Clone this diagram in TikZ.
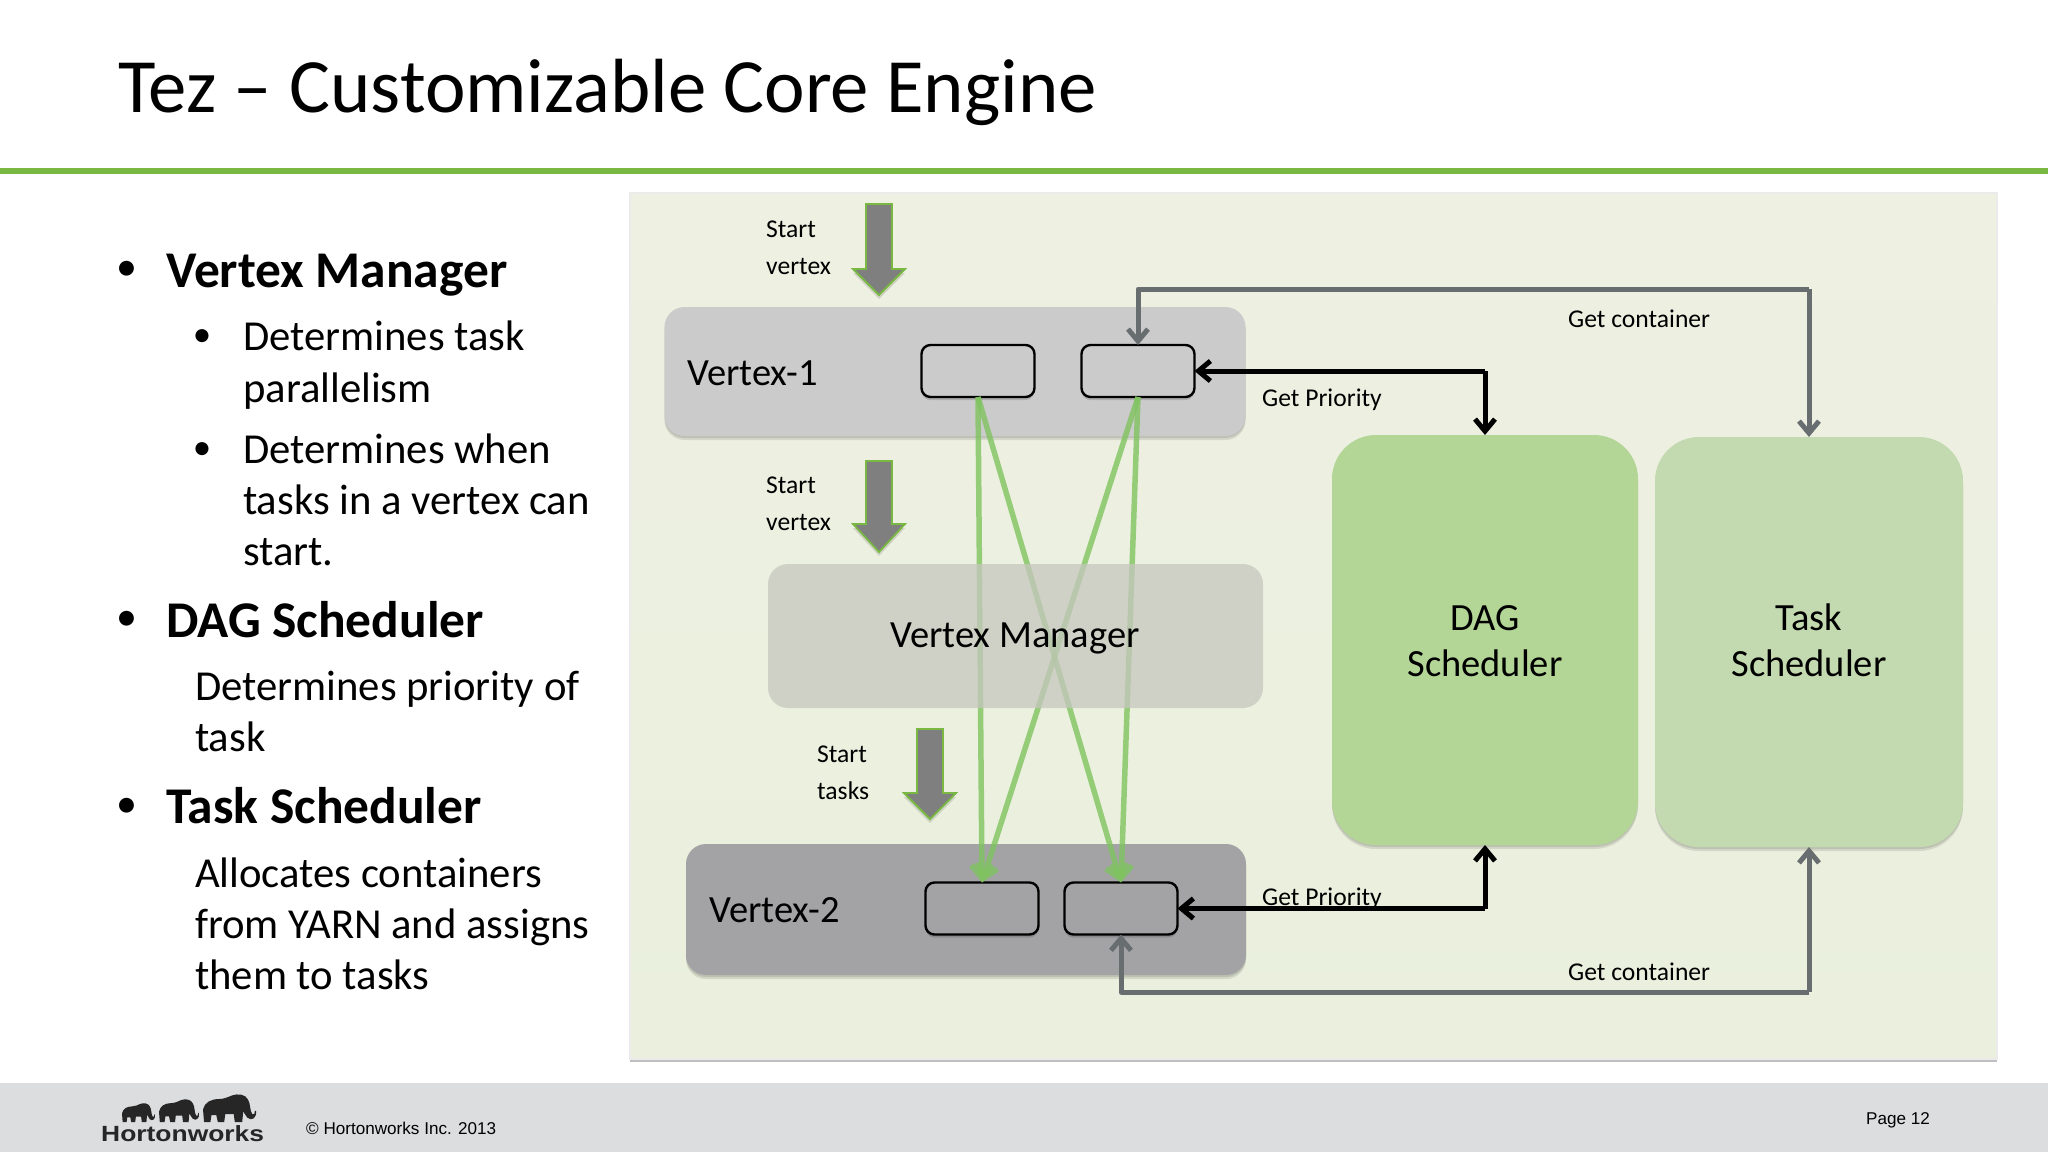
\documentclass[tikz,border=0pt]{standalone}
\usepackage{fontspec}
\setmainfont{Carlito}
\newfontfamily\arialf{Liberation Sans}
\usetikzlibrary{arrows.meta,shadows,calc}
\definecolor{paneltop}{HTML}{EEF0E2}
\definecolor{panelbot}{HTML}{EAF0DD}
\definecolor{vonec}{HTML}{CBCBCB}
\definecolor{vtwoc}{HTML}{A3A3A5}
\definecolor{vmc}{HTML}{C6C7BE}
\definecolor{dagc}{HTML}{B3D596}
\definecolor{taskc}{HTML}{C3D9AF}
\definecolor{rulec}{HTML}{78B843}
\definecolor{footc}{HTML}{DCDDDF}
\definecolor{grayline}{HTML}{686E70}
\definecolor{greenline}{HTML}{7FC35F}
\definecolor{blockc}{HTML}{7F7F7F}
\newcommand{\fs}[1]{\fontsize{#1}{#1}\selectfont}
\newcommand{\elephant}[4]{\fill[black!85,shift={(#1,#2)},x=#3pt,y=-#4pt]
  (0,.55) .. controls (.03,.3) and (.15,.18) .. (.3,.18)
  .. controls (.4,.18) and (.48,.1) .. (.55,.05)
  .. controls (.65,-.02) and (.8,0) .. (.85,.2)
  .. controls (.9,.35) and (.88,.6) .. (.93,.72)
  .. controls (.96,.78) and (.98,.7) .. (.98,.6)
  -- (1,.6) .. controls (1.02,.85) and (.92,.98) .. (.84,.85)
  .. controls (.8,.75) and (.78,.7) .. (.76,.62)
  -- (.74,1) -- (.6,1) -- (.58,.72) -- (.42,.72) -- (.4,1) -- (.28,1) -- (.25,.75) -- (.16,.75) -- (.14,1) -- (.02,1) -- cycle;}
\newcommand{\blockarrow}[4]{\fill[blockc,draw=rulec,line width=1.8pt,general shadow={fill=black,opacity=.12,shadow yshift=-4pt}]
  ($(#1,#2)+(-13,0)$) -- ($(#1,#2)+(13,0)$) -- (#1+13,#3) -- (#1+26,#3) -- (#1,#4) -- (#1-26,#3) -- (#1-13,#3) -- cycle;}
\tikzset{
 x=1pt,y=-1pt,
 soft/.style={general shadow={fill=black,opacity=.10,shadow yshift=-2pt},general shadow={fill=black,opacity=.10,shadow yshift=-4pt}},
 box/.style={inner sep=0pt,outer sep=0pt,rounded corners=#1},
 vbox/.style={box=20pt,soft},
 sched/.style={box=44pt,soft},
 task/.style={box=9pt,draw=black,line width=2.4pt,minimum width=113pt,minimum height=52pt,general shadow={fill=black,opacity=.15,shadow yshift=-3pt}},
 lab/.style={anchor=base west,inner sep=0pt,font=\fs{25.6}},
 big/.style={anchor=base west,inner sep=0pt,font=\fs{42.7}},
 head/.style={anchor=base west,inner sep=0pt,font=\fs{51.5}\bfseries},
 vlab/.style={anchor=base west,inner sep=0pt,font=\fs{38.5}},
 mid/.style={font=\fs{38.5},inner sep=0pt,anchor=base},
 greyconn/.style={draw=grayline,line width=5pt,line join=round,-{Straight Barb[length=12pt,width=20pt,line width=5pt]}},
 blackconn/.style={draw=black,line width=5pt,line join=round,-{Straight Barb[length=12pt,width=20pt,line width=5pt]}},
 greenconn/.style={draw=greenline,draw opacity=.8,line width=5.5pt,-{Straight Barb[length=13pt,width=21pt,line width=5.5pt]}},
 dota/.style={anchor=center,inner sep=0pt,font=\fs{42}},
 dotb/.style={anchor=center,inner sep=0pt,font=\fs{37}},
}
\begin{document}
\begin{tikzpicture}
\useasboundingbox (0,0) rectangle (2048,1152);
\fill[white] (0,0) rectangle (2048,1152);
% header rule and footer
\fill[rulec] (0,167.5) rectangle (2048,173.5);
\fill[footc] (0,1083) rectangle (2048,1152);
\node[anchor=base west,inner sep=0pt,font=\fs{76.8}] (title) at (118,112) {Tez – Customizable Core Engine};
% left text
\node[dota] (b1m) at (127,271) {•};
\node[head] (t1) at (166,287) {Vertex Manager};
\node[dotb] (b2m) at (202,338) {•};
\node[big] (t2) at (243,350) {Determines task};
\node[big] (t3) at (243,402) {parallelism};
\node[dotb] (b3m) at (202,451) {•};
\node[big] (t4) at (243,463) {Determines when};
\node[big] (t5) at (243,514) {tasks in a vertex can};
\node[big] (t6) at (243,565) {start.};
\node[dota] (b4m) at (127,621) {•};
\node[head] (t7) at (166,637) {DAG Scheduler};
\node[big] (t8) at (195,700) {Determines priority of};
\node[big] (t9) at (195,751) {task};
\node[dota] (b5m) at (127,808) {•};
\node[head] (t10) at (166,823) {Task Scheduler};
\node[big] (t11) at (195,887) {Allocates containers};
\node[big] (t12) at (195,938) {from YARN and assigns};
\node[big] (t13) at (195,989) {them to tasks};
% panel
\node[inner sep=0pt,outer sep=0pt,top color=paneltop,bottom color=panelbot,draw=black!8,line width=1.2pt,minimum width=1367pt,minimum height=866pt,general shadow={fill=black,opacity=.25,shadow yshift=-3pt,shadow xshift=0pt}] (panel) at (1313.5,626) {};
% vertex boxes
\node[vbox,fill=vonec,minimum width=581pt,minimum height=129pt] (v1) at (955,371.5) {};
\node[vbox,fill=vtwoc,minimum width=560pt,minimum height=131pt] (v2) at (966,909.5) {};
\node[vlab] (v1t) at (687,385) {Vertex-1};
\node[vlab] (v2t) at (709,922) {Vertex-2};
\node[task,fill=vonec] (a1) at (978,371) {};
\node[task,fill=vonec] (b1) at (1138,371) {};
\node[task,fill=vtwoc] (a2) at (982,908.5) {};
\node[task,fill=vtwoc] (b2) at (1121,908.5) {};
% schedulers
\node[sched,fill=dagc,minimum width=306pt,minimum height=410pt] (dag) at (1485,640) {};
\node[sched,fill=taskc,minimum width=308pt,minimum height=410pt] (tsk) at (1809,642) {};
\node[mid] (dagt1) at (1485,630) {DAG};
\node[mid] (dagt2) at (1485,676) {Scheduler};
\node[mid] (tskt1) at (1809,630) {Task};
\node[mid] (tskt2) at (1809,676) {Scheduler};
% green connectors
\draw[greenconn] (a1.south) -- (a2.north);
\draw[greenconn] (a1.south) -- (b2.north);
\draw[greenconn] (b1.south) -- (a2.north);
\draw[greenconn] (b1.south) -- (b2.north);
% vertex manager (translucent, over the lines)
\node[box=20pt,fill=vmc,fill opacity=.75,minimum width=495pt,minimum height=144pt] (vm) at (1015.5,636) {};
\node[mid] (vmt) at (1015,647) {Vertex Manager};
% block arrows
\blockarrow{879}{204}{269}{295}
\blockarrow{879}{461}{524}{552}
\blockarrow{930}{729}{793}{819}
\node[lab] (s1) at (766,237) {Start};
\node[lab] (s2) at (766,274) {vertex};
\node[lab] (s3) at (766,493) {Start};
\node[lab] (s4) at (766,530) {vertex};
\node[lab] (s5) at (817,762) {Start};
\node[lab] (s6) at (817,799) {tasks};
% routing levels
\coordinate (ytop) at (0,289);
\coordinate (ybot) at (0,992);
% connectors
\draw[greyconn] (tsk.north |- ytop) -- (b1.north |- ytop) -- (b1.north);
\draw[greyconn] (tsk.north |- ytop) -- (tsk.north);
\draw[greyconn] (tsk.south |- ybot) -- (b2.south |- ybot) -- (b2.south);
\draw[greyconn] (tsk.south |- ybot) -- (tsk.south);
\draw[blackconn] (dag.north |- b1.east) -- (b1.east);
\draw[blackconn] (dag.north |- b1.east) -- (dag.north);
\draw[blackconn] (dag.south |- b2.east) -- (b2.east);
\draw[blackconn] (dag.south |- b2.east) -- (dag.south);
% connector labels
\node[lab] (gc1) at (1568,327) {Get container};
\node[lab] (gp1) at (1262,406) {Get Priority};
\node[lab] (gp2) at (1262,905) {Get Priority};
\node[lab] (gc2) at (1568,980) {Get container};
% footer
\elephant{122}{1103}{33}{19}
\elephant{159}{1099}{40}{23}
\elephant{203}{1094}{53}{28}
\node[anchor=base west,inner sep=0pt,font=\arialf\fs{22}\bfseries,black!85,xscale=1.2,transform shape] (hw) at (101,1141) {Hortonworks};
\node[anchor=base west,inner sep=0pt,font=\arialf\fs{17.1}] (cp) at (306,1134) {© Hortonworks Inc. 2013};
\node[anchor=base west,inner sep=0pt,font=\arialf\fs{17.1}] (pg) at (1866,1124) {Page 12};
\end{tikzpicture}
\end{document}
